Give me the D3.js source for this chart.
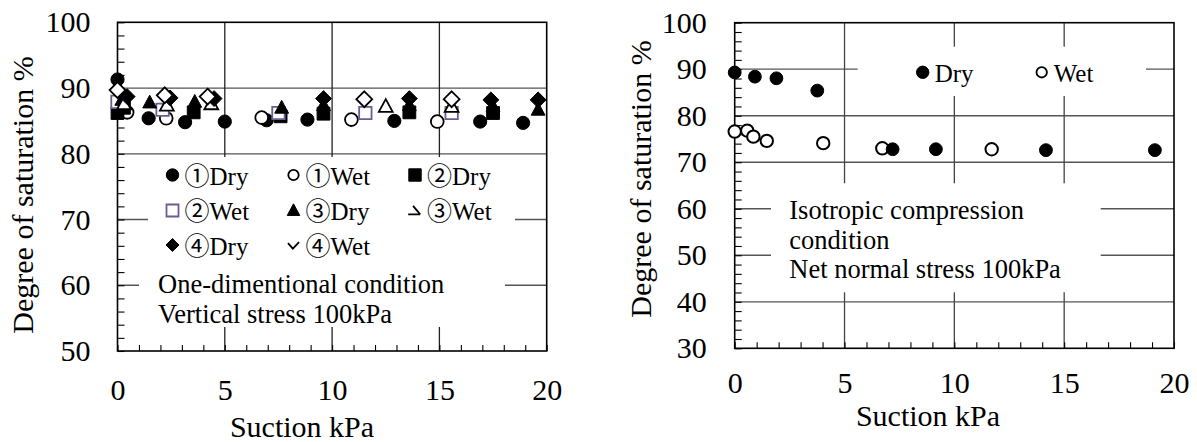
<!DOCTYPE html>
<html>
<head>
<meta charset="utf-8">
<script src="https://cdn.jsdelivr.net/npm/d3@7"></script>
<style>
  html, body { margin: 0; padding: 0; background: #fff; }
  svg { display: block; }
  svg text { font-family: "Liberation Serif", "Noto Sans CJK JP", serif; fill: #000; }
</style>
</head>
<body>
<svg id="chart" width="1197" height="442"></svg>
<script>
// ---------------- data ----------------
const xTickValues = [0, 5, 10, 15, 20];
const leftYTickValues = [50, 60, 70, 80, 90, 100];
const rightYTickValues = [30, 40, 50, 60, 70, 80, 90, 100];

const xTitle = "Suction kPa";
const yTitle = "Degree of saturation %";

// left panel: one-dimensional condition  [suction, degree of saturation]
const s1Dry = [[0, 91.3], [0.2, 86.3], [1.45, 85.4], [3.15, 84.8], [5.0, 84.9], [6.95, 85.1], [8.85, 85.2], [12.9, 85.0], [16.9, 84.9], [18.9, 84.7]];
const s1Wet = [[0.45, 86.3], [2.27, 85.4], [6.72, 85.5], [10.9, 85.2], [14.9, 84.9]];
const s2Dry = [[0, 86.2], [0.3, 87.0], [3.55, 86.3], [7.6, 85.7], [9.6, 86.1], [13.6, 86.3], [17.5, 86.2]];
const s2Wet = [[0, 87.9], [2.1, 86.7], [7.5, 86.2], [11.55, 86.2], [15.57, 86.2]];
const s3Dry = [[0.2, 88.2], [1.5, 87.8], [3.6, 87.9], [7.65, 87.0], [9.6, 87.4], [13.6, 87.4], [17.5, 87.2], [19.6, 86.7]];
const s3Wet = [[0.3, 87.6], [2.3, 87.4], [4.37, 87.6], [12.5, 87.2], [15.57, 87.2]];
const s4Dry = [[0.45, 88.7], [2.45, 88.5], [4.5, 88.4], [9.6, 88.4], [13.6, 88.4], [17.4, 88.2], [19.6, 88.2]];
const s4Wet = [[0, 89.7], [2.2, 88.9], [4.2, 88.7], [11.5, 88.3], [15.57, 88.3]];
const leftLabels = ["①Dry", "①Wet", "②Dry", "②Wet", "③Dry", "③Wet", "④Dry", "④Wet"];
const leftNote = ["One-dimentional condition", "Vertical stress 100kPa"];

// right panel: isotropic compression condition
const rDry = [[0, 89.3], [0.92, 88.4], [1.9, 88.05], [3.76, 85.4], [7.19, 72.8], [9.16, 72.8], [14.17, 72.6], [19.13, 72.6]];
const rWet = [[0, 76.6], [0.57, 76.8], [0.85, 75.5], [1.46, 74.6], [4.03, 74.1], [6.72, 73.0], [11.7, 72.8]];
const rightLabels = ["Dry", "Wet"];
const rightNote = ["Isotropic compression", "condition", "Net normal stress 100kPa"];

// ---------------- drawing ----------------
const FONT = '"Liberation Serif", "Noto Sans CJK JP", serif';
const svg = d3.select("#chart");
const PURPLE = "#6e5b94";

const shapes = {
  circle: s => { const r = s; return `M${r},0A${r},${r} 0 1,1 ${-r},0A${r},${r} 0 1,1 ${r},0Z`; },
  square: s => `M${-s},${-s}H${s}V${s}H${-s}Z`,
  triangle: s => `M0,${-s * 1.15}L${s * 1.08},${s * 0.85}L${-s * 1.08},${s * 0.85}Z`,
  diamond: s => `M0,${-s * 1.2}L${s * 1.2},0L0,${s * 1.2}L${-s * 1.2},0Z`,
  halfTri: s => `M${-s * 0.3},${-s * 0.7}L${s * 0.8},${s * 0.6}M${-s * 1.05},${s * 0.6}H${s * 0.8}`,
  vee: s => `M${-s * 0.85},${-s * 0.3}L${-s * 0.1},${s * 0.55}L${s * 0.85},${-s * 0.45}`
};

function panel(opt) {
  const x = d3.scaleLinear().domain([0, 20]).range([opt.x0, opt.x1]);
  const y = d3.scaleLinear().domain(opt.yDomain).range([opt.y1, opt.y0]);
  const g = svg.append("g").attr("font-family", FONT);

  // grid lines
  const gridY = opt.yTicks.slice(1, -1);
  g.append("g").selectAll("line").data(gridY).join("line")
    .attr("x1", opt.x0).attr("x2", opt.x1)
    .attr("y1", d => y(d)).attr("y2", d => y(d))
    .attr("stroke", opt.gridH).attr("stroke-width", 1.3);
  g.append("g").selectAll("line").data(xTickValues.slice(1, -1)).join("line")
    .attr("x1", d => x(d)).attr("x2", d => x(d))
    .attr("y1", opt.y0).attr("y2", opt.y1)
    .attr("stroke", opt.gridV).attr("stroke-width", 1.3);

  // white boxes behind legend / notes
  opt.boxes.forEach(b => g.append("rect").attr("x", b[0]).attr("y", b[1])
    .attr("width", b[2] - b[0]).attr("height", b[3] - b[1]).attr("fill", "#fff"));

  // minor ticks (inward)
  const bottomMinor = d3.axisBottom(x).tickValues(d3.range(0, 21, 1)).tickSize(-6).tickFormat("");
  g.append("g").attr("transform", `translate(0,${opt.y1})`).call(bottomMinor)
    .call(a => a.select(".domain").remove())
    .selectAll("line").attr("stroke", "#000").attr("stroke-width", 1.1);
  const yMinor = d3.range(opt.yDomain[0], opt.yDomain[1] + 0.1, 2);
  const leftMinor = d3.axisLeft(y).tickValues(yMinor).tickSize(-7).tickFormat("");
  g.append("g").attr("transform", `translate(${opt.x0},0)`).call(leftMinor)
    .call(a => a.select(".domain").remove())
    .selectAll("line").attr("stroke", "#000").attr("stroke-width", 1.1);

  // tick labels
  const bottomAxis = d3.axisBottom(x).tickValues(xTickValues).tickSize(0).tickPadding(opt.xPad).tickFormat(d3.format("d"));
  const ba = g.append("g").attr("transform", `translate(0,${opt.y1})`).call(bottomAxis);
  ba.select(".domain").remove();
  ba.attr("font-family", FONT).attr("font-size", 30);
  ba.selectAll("text").attr("fill", "#000");
  const leftAxis = d3.axisLeft(y).tickValues(opt.yTicks).tickSize(0).tickPadding(opt.yPad).tickFormat(d3.format("d"));
  const la = g.append("g").attr("transform", `translate(${opt.x0},0)`).call(leftAxis);
  la.select(".domain").remove();
  la.attr("font-family", FONT).attr("font-size", 30);
  la.selectAll("text").attr("fill", "#000");

  // frame
  g.append("rect").attr("x", opt.x0).attr("y", opt.y0)
    .attr("width", opt.x1 - opt.x0).attr("height", opt.y1 - opt.y0)
    .attr("fill", "none").attr("stroke", "#000").attr("stroke-width", 1.6);

  // titles
  g.append("text").attr("x", opt.xTitle[0]).attr("y", opt.xTitle[1])
    .attr("text-anchor", "middle").attr("font-size", 30).text(xTitle);
  g.append("text").attr("transform", `translate(${opt.yTitle[0]},${opt.yTitle[1]}) rotate(-90)`)
    .attr("text-anchor", "middle").attr("font-size", 30).text(yTitle);

  return { g, x, y };
}

function drawSeries(p, data, st) {
  p.g.append("g").selectAll("path").data(data).join("path")
    .attr("transform", d => `translate(${p.x(d[0])},${p.y(d[1])})`)
    .attr("d", shapes[st.shape](st.size))
    .attr("fill", st.fill).attr("stroke", st.stroke).attr("stroke-width", st.sw || 1.8);
}

// ----- left panel -----
const L = panel({
  x0: 117.5, x1: 546.7, y0: 22.3, y1: 351,
  yDomain: [50, 100], yTicks: leftYTickValues,
  gridH: "#555", gridV: "#222",
  boxes: [[148, 157, 515, 262], [139, 262, 505, 327]],
  xPad: 28, yPad: 27,
  xTitle: [302, 437], yTitle: [33, 195]
});

const leftStyles = [
  { shape: "circle", size: 6.6, fill: "#000", stroke: "#000", sw: 1 },
  { shape: "circle", size: 6.4, fill: "#fff", stroke: "#000" },
  { shape: "square", size: 6.4, fill: "#000", stroke: "#000", sw: 1 },
  { shape: "square", size: 6.2, fill: "#fff", stroke: PURPLE },
  { shape: "triangle", size: 6.4, fill: "#000", stroke: "#000", sw: 1 },
  { shape: "triangle", size: 6.4, fill: "#fff", stroke: "#000" },
  { shape: "diamond", size: 6.6, fill: "#000", stroke: "#000", sw: 1 },
  { shape: "diamond", size: 6.6, fill: "#fff", stroke: "#000" }
];
const leftSeries = [s1Dry, s1Wet, s2Dry, s2Wet, s3Dry, s3Wet, s4Dry, s4Wet];
leftSeries.forEach((s, i) => drawSeries(L, s, leftStyles[i]));

// left legend
const legendStyles = [
  { shape: "circle", size: 6.2, fill: "#000", stroke: "#000", sw: 1 },
  { shape: "circle", size: 5.2, fill: "#fff", stroke: "#000" },
  { shape: "square", size: 6.2, fill: "#000", stroke: "#000", sw: 1 },
  { shape: "square", size: 6, fill: "#fff", stroke: PURPLE },
  { shape: "triangle", size: 5.8, fill: "#000", stroke: "#000", sw: 1 },
  { shape: "halfTri", size: 6.5, fill: "none", stroke: "#000" },
  { shape: "diamond", size: 5.4, fill: "#000", stroke: "#000", sw: 1 },
  { shape: "vee", size: 6.5, fill: "none", stroke: "#000" }
];
const legCols = [172.5, 293.5, 415];
const legRows = [175, 210.5, 245];
leftLabels.forEach((lab, i) => {
  const cx = legCols[i % 3], cy = legRows[Math.floor(i / 3)];
  const st = legendStyles[i];
  L.g.append("path").attr("transform", `translate(${cx},${cy})`)
    .attr("d", shapes[st.shape](st.size))
    .attr("fill", st.fill).attr("stroke", st.stroke).attr("stroke-width", st.sw || 1.8);
  L.g.append("text").attr("x", cx + 12).attr("y", cy + 9.5).attr("font-size", 25).text(lab);
});
leftNote.forEach((t, i) => L.g.append("text").attr("x", 158).attr("y", 292.5 + i * 30).attr("font-size", 26.5).text(t));

// ----- right panel -----
const R = panel({
  x0: 734.7, x1: 1174, y0: 22.7, y1: 348.3,
  yDomain: [30, 100], yTicks: rightYTickValues,
  gridH: "#555", gridV: "#444",
  boxes: [[857.7, 46.7, 1146, 96], [771, 183.3, 1100.7, 292.3]],
  xPad: 23.5, yPad: 28,
  xTitle: [928, 426], yTitle: [651, 179]
});
drawSeries(R, rWet, { shape: "circle", size: 6.2, fill: "#fff", stroke: "#000", sw: 2 });
drawSeries(R, rDry, { shape: "circle", size: 6.4, fill: "#000", stroke: "#000", sw: 1 });

const rLegX = [922.7, 1041.7];
const rLegSt = [
  { shape: "circle", size: 6.2, fill: "#000", stroke: "#000", sw: 1 },
  { shape: "circle", size: 5.2, fill: "#fff", stroke: "#000" }
];
rightLabels.forEach((lab, i) => {
  const st = rLegSt[i];
  R.g.append("path").attr("transform", `translate(${rLegX[i]},72.3)`)
    .attr("d", shapes[st.shape](st.size))
    .attr("fill", st.fill).attr("stroke", st.stroke).attr("stroke-width", st.sw || 1.8);
  R.g.append("text").attr("x", rLegX[i] + 12).attr("y", 81.5).attr("font-size", 25).text(lab);
});
rightNote.forEach((t, i) => R.g.append("text").attr("x", 789.3).attr("y", 219.3 + i * 29.5).attr("font-size", 26.5).text(t));
</script>
</body>
</html>
